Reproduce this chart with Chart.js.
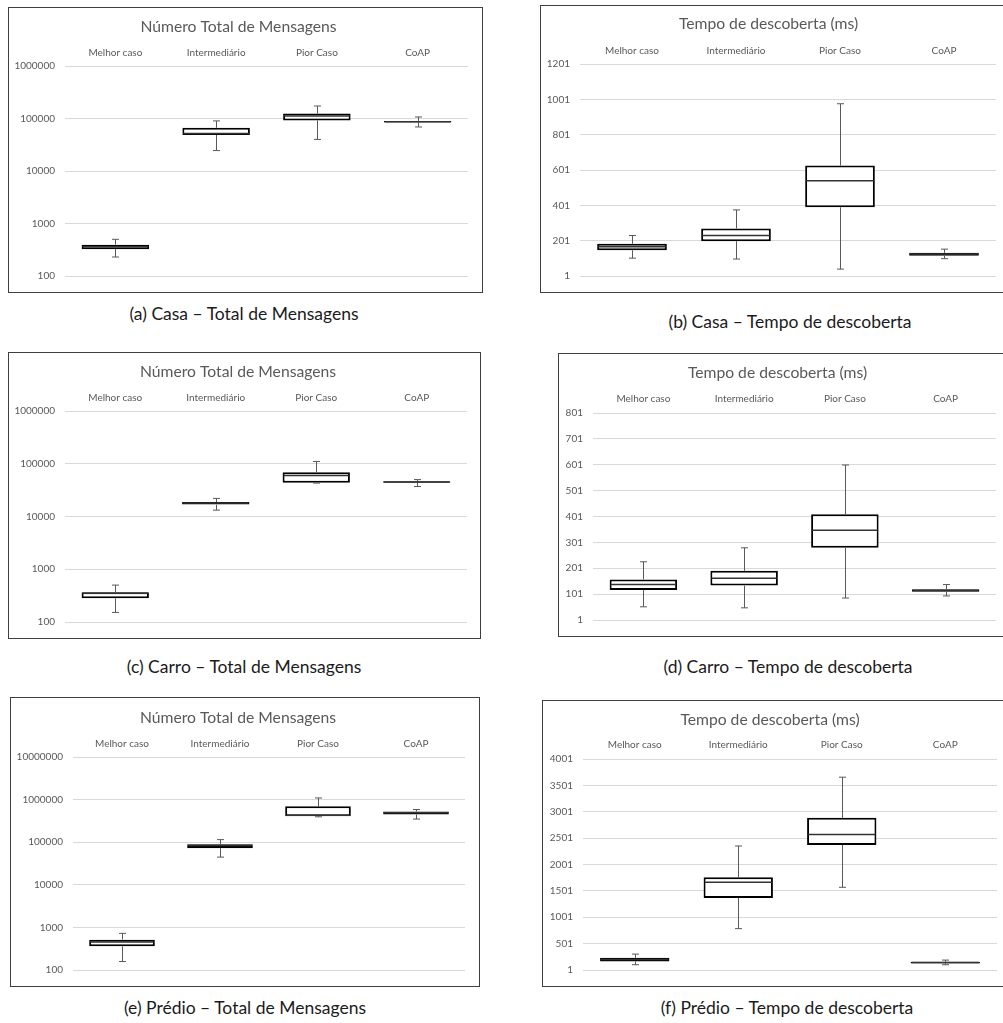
<!DOCTYPE html>
<html>
<head>
<meta charset="utf-8">
<script src="https://cdn.jsdelivr.net/npm/chart.js@4.4.1/dist/chart.umd.min.js"></script>
<style>
  html, body { margin: 0; padding: 0; background: #fff; width: 1003px; height: 1023px; overflow: hidden; }
  .panel { position: absolute; border: 1px solid #3f3f3f; box-sizing: border-box; background: #fff; }
  .panel canvas { position: absolute; left: 0; top: 0; }
  .caption { position: absolute; width: 400px; text-align: center; font-family: Lato, sans-serif;
             font-size: 17.5px; line-height: 20px; color: #1b1b1b; white-space: nowrap; }
</style>
</head>
<body>
<script>
// Scenario names shown along the top of every chart
const categories = ['Melhor caso', 'Intermediário', 'Pior Caso', 'CoAP'];

// Tick values for the value axes
const msgTicksCasa   = [100, 1000, 10000, 100000, 1000000];
const msgTicksCarro  = [100, 1000, 10000, 100000, 1000000];
const msgTicksPredio = [100, 1000, 10000, 100000, 1000000, 10000000];
const timeTicksCasa   = [1, 201, 401, 601, 801, 1001, 1201];
const timeTicksCarro  = [1, 101, 201, 301, 401, 501, 601, 701, 801];
const timeTicksPredio = [1, 501, 1001, 1501, 2001, 2501, 3001, 3501, 4001];

// (a) Casa – total de mensagens
const casaMsgMin    = [230, 24500, 40000, 69000];
const casaMsgQ1     = [325, 48500, 92000, 84000];
const casaMsgMedian = [360, 52000, 112000, 87000];
const casaMsgQ3     = [395, 66500, 124000, 90000];
const casaMsgMax    = [500, 90000, 173000, 107000];

// (b) Casa – tempo de descoberta (ms)
const casaTimeMin    = [102, 97, 40, 99];
const casaTimeQ1     = [147, 198, 390, 116];
const casaTimeMedian = [166, 230, 540, 125];
const casaTimeQ3     = [183, 270, 626, 132];
const casaTimeMax    = [230, 375, 976, 153];

// (c) Carro – total de mensagens
const carroMsgMin    = [152, 13200, 43000, 37000];
const carroMsgQ1     = [282, 16800, 43500, 43400];
const carroMsgMedian = [350, 18000, 59600, 45300];
const carroMsgQ3     = [365, 18800, 68800, 46700];
const carroMsgMax    = [501, 22000, 110600, 50100];

// (d) Carro – tempo de descoberta (ms)
const carroTimeMin    = [52, 48, 86, 94];
const carroTimeQ1     = [117, 134, 280, 110];
const carroTimeMedian = [138, 162, 348, 115];
const carroTimeQ3     = [158, 191, 410, 120];
const carroTimeMax    = [226, 280, 600, 138];

// (e) Prédio – total de mensagens
const predioMsgMin    = [158, 44700, 395000, 349000];
const predioMsgQ1     = [361, 72500, 405000, 447000];
const predioMsgMedian = [455, 83600, 430000, 488000];
const predioMsgQ3     = [516, 89800, 700000, 525000];
const predioMsgMax    = [725, 115000, 1094000, 585000];

// (f) Prédio – tempo de descoberta (ms)
const predioTimeMin    = [101, 785, 1569, 101];
const predioTimeQ1     = [164, 1368, 2371, 126];
const predioTimeMedian = [202, 1663, 2572, 145];
const predioTimeQ3     = [233, 1757, 2885, 158];
const predioTimeMax    = [302, 2352, 3656, 189];

const MSG_TITLE = 'Número Total de Mensagens';
const TIME_TITLE = 'Tempo de descoberta (ms)';

// Page layout: frame box, plot box, title/category label centre lines, caption placement
const panels = [
  { frame: [8, 7, 482, 292],    plot: [65, 66, 468, 278],   titleY: 27,  catY: 52,
    title: MSG_TITLE,  log: true,  min: 100, max: 1000000, ticks: msgTicksCasa,
    stats: { min: casaMsgMin, q1: casaMsgQ1, median: casaMsgMedian, q3: casaMsgQ3, max: casaMsgMax },
    caption: '(a) Casa – Total de Mensagens', capX: 244, capY: 314 },
  { frame: [540, 5, 1012, 292],  plot: [580, 64, 996, 277],  titleY: 24,  catY: 50,
    title: TIME_TITLE, log: false, min: 1, max: 1201, ticks: timeTicksCasa,
    stats: { min: casaTimeMin, q1: casaTimeQ1, median: casaTimeMedian, q3: casaTimeQ3, max: casaTimeMax },
    caption: '(b) Casa – Tempo de descoberta', capX: 790, capY: 322 },
  { frame: [8, 352, 480, 638],  plot: [65, 411, 467, 624],  titleY: 372, catY: 397,
    title: MSG_TITLE,  log: true,  min: 100, max: 1000000, ticks: msgTicksCarro,
    stats: { min: carroMsgMin, q1: carroMsgQ1, median: carroMsgMedian, q3: carroMsgQ3, max: carroMsgMax },
    caption: '(c) Carro – Total de Mensagens', capX: 244, capY: 667 },
  { frame: [558, 353, 1012, 636], plot: [593, 413, 996, 623], titleY: 373, catY: 398,
    title: TIME_TITLE, log: false, min: 1, max: 801, ticks: timeTicksCarro,
    stats: { min: carroTimeMin, q1: carroTimeQ1, median: carroTimeMedian, q3: carroTimeQ3, max: carroTimeMax },
    caption: '(d) Carro – Tempo de descoberta', capX: 788, capY: 667 },
  { frame: [10, 697, 479, 986], plot: [73, 757, 465, 972],  titleY: 718, catY: 743,
    title: MSG_TITLE,  log: true,  min: 100, max: 10000000, ticks: msgTicksPredio,
    stats: { min: predioMsgMin, q1: predioMsgQ1, median: predioMsgMedian, q3: predioMsgQ3, max: predioMsgMax },
    caption: '(e) Prédio – Total de Mensagens', capX: 245, capY: 1008 },
  { frame: [542, 700, 1012, 986], plot: [583, 759, 997, 972], titleY: 720, catY: 744,
    title: TIME_TITLE, log: false, min: 1, max: 4001, ticks: timeTicksPredio,
    stats: { min: predioTimeMin, q1: predioTimeQ1, median: predioTimeMedian, q3: predioTimeQ3, max: predioTimeMax },
    caption: '(f) Prédio – Tempo de descoberta', capX: 787, capY: 1008 }
];

// Whiskers, caps and median line, placed through the chart's own y scale
const boxWhiskers = {
  id: 'boxWhiskers',
  afterDatasetsDraw(chart, args, opts) {
    const s = opts.stats;
    if (!s) return;
    const ctx = chart.ctx;
    const yScale = chart.scales.y;
    const meta = chart.getDatasetMeta(0);
    meta.data.forEach((bar, i) => {
      const cx = Math.round(bar.x) + 0.5;
      const half = bar.width / 2;
      const pMin = yScale.getPixelForValue(s.min[i]);
      const pQ1 = yScale.getPixelForValue(s.q1[i]);
      const pMed = yScale.getPixelForValue(s.median[i]);
      const pQ3 = yScale.getPixelForValue(s.q3[i]);
      const pMax = yScale.getPixelForValue(s.max[i]);
      ctx.save();
      ctx.strokeStyle = '#595959';
      ctx.lineWidth = 1;
      ctx.beginPath();
      ctx.moveTo(cx, pMax); ctx.lineTo(cx, pQ3);
      ctx.moveTo(cx, pQ1);  ctx.lineTo(cx, pMin);
      ctx.moveTo(cx - 3.5, pMax); ctx.lineTo(cx + 3.5, pMax);
      ctx.moveTo(cx - 3.5, pMin); ctx.lineTo(cx + 3.5, pMin);
      ctx.stroke();
      ctx.strokeStyle = '#333333';
      ctx.lineWidth = 1.5;
      ctx.beginPath();
      ctx.moveTo(bar.x - half + 1, pMed); ctx.lineTo(bar.x + half - 1, pMed);
      ctx.stroke();
      ctx.restore();
    });
  }
};

panels.forEach(p => {
  const [fl, ft, fr, fb] = p.frame;
  const div = document.createElement('div');
  div.className = 'panel';
  div.style.left = fl + 'px';
  div.style.top = ft + 'px';
  div.style.width = (fr - fl + 1) + 'px';
  div.style.height = (fb - ft + 1) + 'px';
  document.body.appendChild(div);

  const cw = fr - fl - 1, ch = fb - ft - 1;
  const ox = fl + 1, oy = ft + 1;
  const canvas = document.createElement('canvas');
  canvas.width = cw; canvas.height = ch;
  canvas.style.width = cw + 'px'; canvas.style.height = ch + 'px';
  div.appendChild(canvas);

  const pl = p.plot[0] - ox, pt = p.plot[1] - oy;
  const pr = cw - (p.plot[2] - ox), pb = ch - (p.plot[3] - oy);
  const tc = p.titleY - oy, cc = p.catY - oy;
  const titleSize = 15.7, titleLH = 18;

  new Chart(canvas, {
    type: 'bar',
    data: {
      labels: categories,
      datasets: [{
        data: p.stats.q1.map((v, i) => [v, p.stats.q3[i]]),
        backgroundColor: '#ffffff',
        borderColor: '#000000',
        borderWidth: 2,
        borderSkipped: false,
        categoryPercentage: 1,
        barPercentage: 0.67
      }]
    },
    options: {
      responsive: false,
      animation: false,
      devicePixelRatio: 1,
      layout: { padding: { left: 0, top: 0, right: pr, bottom: pb } },
      plugins: {
        legend: { display: false },
        tooltip: { enabled: false },
        title: {
          display: true, text: p.title, color: '#595959',
          font: { family: 'Lato', size: titleSize, weight: 'normal', lineHeight: titleLH + 'px' },
          padding: { top: tc - titleLH / 2, bottom: 0 }
        },
        boxWhiskers: { stats: p.stats }
      },
      scales: {
        x: {
          position: 'top',
          grid: { display: false },
          border: { display: false },
          ticks: { color: '#595959', font: { family: 'Lato', size: 10, lineHeight: '12px' },
                   padding: pt - cc - 15, maxRotation: 0, autoSkip: false },
          afterFit: s => { s.height = pt - (tc + titleLH / 2); }
        },
        y: {
          type: p.log ? 'logarithmic' : 'linear',
          min: p.min, max: p.max,
          grid: { color: '#d9d9d9', drawTicks: false, lineWidth: 1 },
          border: { display: false },
          ticks: { color: '#595959', font: { family: 'Lato', size: 10 }, padding: 10, autoSkip: false,
                   callback: v => String(v) },
          afterBuildTicks: s => { s.ticks = p.ticks.map(v => ({ value: v })); },
          afterFit: s => { s.width = pl; }
        }
      }
    },
    plugins: [boxWhiskers]
  });

  const cap = document.createElement('div');
  cap.className = 'caption';
  cap.textContent = p.caption;
  cap.style.left = (p.capX - 200) + 'px';
  cap.style.top = (p.capY - 10) + 'px';
  document.body.appendChild(cap);
});
</script>
</body>
</html>
